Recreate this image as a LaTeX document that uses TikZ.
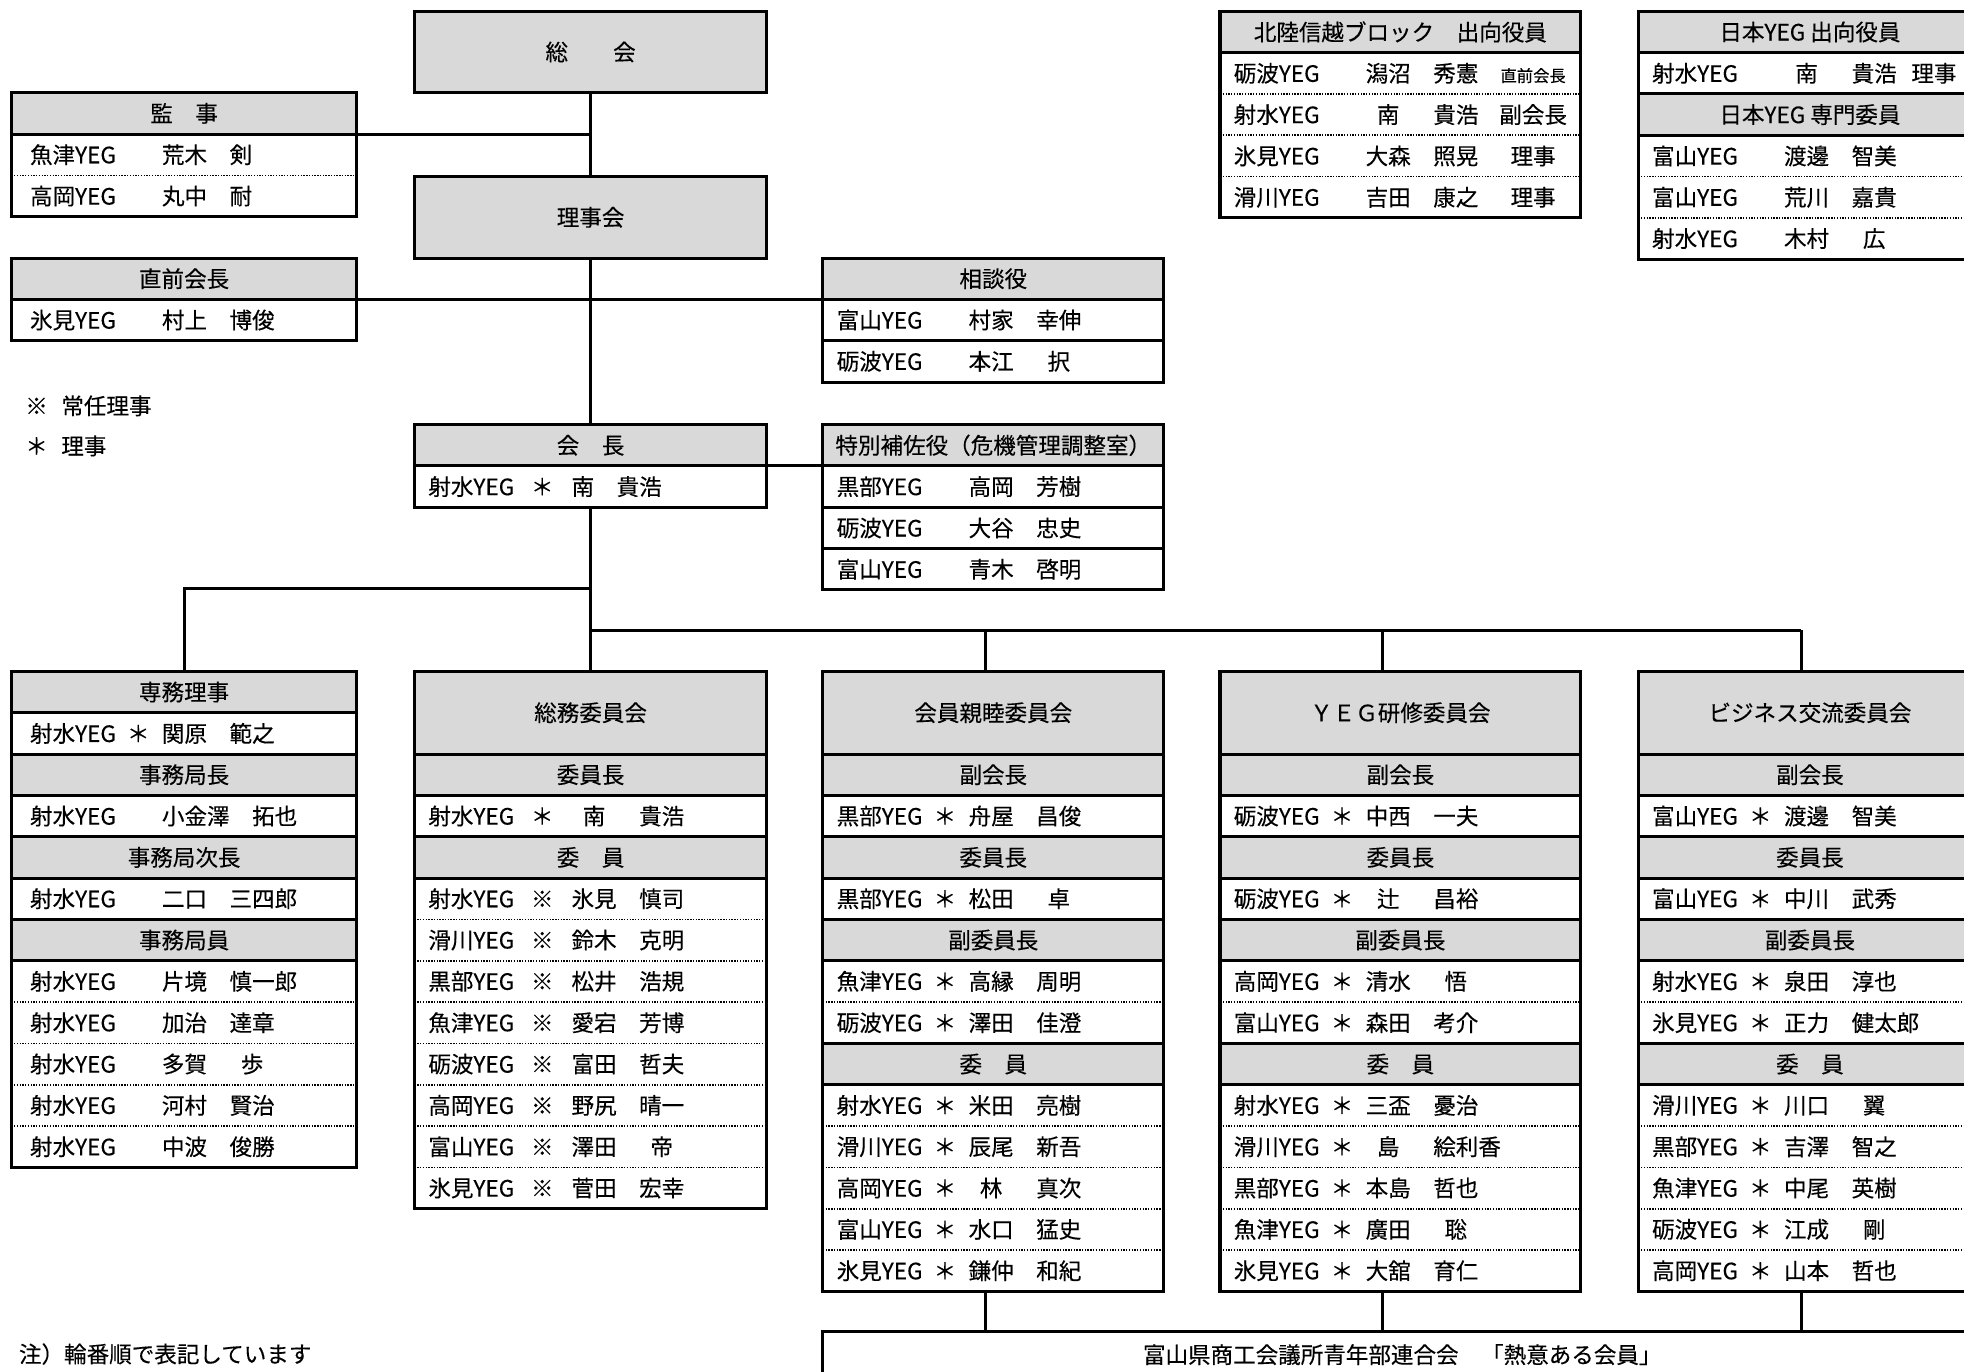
\documentclass[tikz,border=0pt]{standalone}
\usepackage{fontspec}
\setmainfont{Noto Sans CJK JP}[FakeBold=0.25]
\definecolor{hdgray}{HTML}{D9D9D9}
\newcommand{\yeg}[3]{\makebox[4.3em][l]{#1}\makebox[1em][c]{#2}\hspace{0.55em}#3}
\newcommand{\yegs}[3]{\makebox[4.55em][l]{#1}\makebox[1em][c]{#2}\hspace{0.8em}#3}
\newcommand{\cchar}[1]{\makebox[2em][c]{#1}}
\newcommand{\yaku}[1]{\hfill\makebox[3em][c]{#1}}
\begin{document}
\begin{tikzpicture}[x=1pt, y=-1pt, font=\fontsize{18}{21}\selectfont,
    hd/.style={draw, line width=2.4pt, fill=hdgray, anchor=north west, minimum height=33pt, inner sep=0pt, outer sep=0pt},
    rw/.style={anchor=north west, minimum height=33pt, inner ysep=0pt, outer sep=0pt, align=left},
    frame/.style={line width=2.4pt},
    link/.style={line width=2.4pt},
    dots/.style={line width=1.3pt, dash pattern=on 1.1pt off 1.1pt},
    wa/.style={minimum width=276pt}, ta/.style={text width=246pt, inner xsep=15pt},
    wb/.style={minimum width=281pt}, tb/.style={text width=259pt, inner xsep=11pt},
    wc/.style={minimum width=272pt}, tc/.style={text width=250pt, inner xsep=11pt},
    wd/.style={minimum width=288pt}, td/.style={text width=266pt, inner xsep=11pt},
    we/.style={minimum width=274pt}, te/.style={text width=252pt, inner xsep=11pt}]
  \useasboundingbox (0,0) rectangle (1568,1095);
  \clip (0,0) rectangle (1568,1095);

  % top: general assembly, board, president
  \node[hd, wb, minimum height=65pt] (sokai) at (331,9) {総　　会};
  \node[hd, wb, minimum height=65pt] (rijikai) at (331,141) {理事会};
  \node[hd, wb] (kaichoH) at (331,339) {会　長};
  \node[rw, tb] (kaicho1) at (331,372) {\yegs{射水YEG}{＊}{南\quad 貴浩}};
  \draw[frame] (kaichoH.north west) rectangle (kaicho1.south east);

  % left side boxes
  \node[hd, wa] (kanjiH) at (9,74) {監　事};
  \node[rw, ta] (kanji1) at (9,107) {\yeg{魚津YEG}{}{荒木\quad 剣}};
  \node[rw, ta] (kanji2) at (9,140) {\yeg{高岡YEG}{}{丸中\quad 耐}};
  \draw[dots] (kanji1.south west) -- (kanji1.south east);
  \draw[frame] (kanjiH.north west) rectangle (kanji2.south east);

  \node[hd, wa] (zenH) at (9,206) {直前会長};
  \node[rw, ta] (zen1) at (9,239) {\yeg{氷見YEG}{}{村上\quad 博俊}};
  \draw[frame] (zenH.north west) rectangle (zen1.south east);

  \node[anchor=west, inner sep=0pt] (legJonin) at (20,324) {※\hspace{0.6em}常任理事};
  \node[anchor=west, inner sep=0pt] (legRiji) at (20,356) {＊\hspace{0.6em}理事};

  % advisers
  \node[hd, wc] (sodanH) at (657,206) {相談役};
  \node[rw, tc] (sodan1) at (657,239) {\yeg{富山YEG}{}{村家\quad 幸伸}};
  \node[rw, tc] (sodan2) at (657,272) {\yeg{砺波YEG}{}{本江\quad \cchar{択}}};
  \draw[frame] (sodan1.south west) -- (sodan1.south east);
  \draw[frame] (sodanH.north west) rectangle (sodan2.south east);

  \node[hd, wc] (tokuH) at (657,339) {特別補佐役（危機管理調整室）};
  \node[rw, tc] (toku1) at (657,372) {\yeg{黒部YEG}{}{高岡\quad 芳樹}};
  \node[rw, tc] (toku2) at (657,405) {\yeg{砺波YEG}{}{大谷\quad 忠史}};
  \node[rw, tc] (toku3) at (657,438) {\yeg{富山YEG}{}{青木\quad 啓明}};
  \draw[frame] (toku1.south west) -- (toku1.south east);
  \draw[frame] (toku2.south west) -- (toku2.south east);
  \draw[frame] (tokuH.north west) rectangle (toku3.south east);

  % seconded officers
  \node[hd, wd] (hokuH) at (974,9) {北陸信越ブロック　出向役員};
  \node[rw, td] (hoku1) at (974,42) {\yeg{砺波YEG}{}{潟沼\quad 秀憲}\yaku{\fontsize{13}{15}\selectfont 直前会長}};
  \node[rw, td] (hoku2) at (974,75) {\yeg{射水YEG}{}{\cchar{南}\quad 貴浩}\yaku{副会長}};
  \node[rw, td] (hoku3) at (974,108) {\yeg{氷見YEG}{}{大森\quad 照晃}\yaku{理事}};
  \node[rw, td] (hoku4) at (974,141) {\yeg{滑川YEG}{}{吉田\quad 康之}\yaku{理事}};
  \foreach \r in {1,2,3} \draw[dots] (hoku\r.south west) -- (hoku\r.south east);
  \draw[frame] (hokuH.north west) rectangle (hoku4.south east);

  \node[hd, we] (nihonH) at (1308,9) {日本YEG 出向役員};
  \node[rw, te] (nihon1) at (1308,42) {\yeg{射水YEG}{}{\cchar{南}\quad 貴浩}\yaku{理事}};
  \node[hd, we] (senmonH) at (1308,75) {日本YEG 専門委員};
  \node[rw, te] (senmon1) at (1308,108) {\yeg{富山YEG}{}{渡邊\quad 智美}};
  \node[rw, te] (senmon2) at (1308,141) {\yeg{富山YEG}{}{荒川\quad 嘉貴}};
  \node[rw, te] (senmon3) at (1308,174) {\yeg{射水YEG}{}{木村\quad \cchar{広}}};
  \foreach \r in {1,2} \draw[dots] (senmon\r.south west) -- (senmon\r.south east);
  \draw[frame] (nihonH.north west) rectangle (senmon3.south east);

  % secretariat
  \node[hd, wa] (senmuH) at (9,536) {専務理事};
  \node[rw, ta] (senmu1) at (9,569) {\yeg{射水YEG}{＊}{関原\quad 範之}};
  \node[hd, wa] (kyokuchoH) at (9,602) {事務局長};
  \node[rw, ta] (kyokucho1) at (9,635) {\yeg{射水YEG}{}{小金澤\quad 拓也}};
  \node[hd, wa] (jichoH) at (9,668) {事務局次長};
  \node[rw, ta] (jicho1) at (9,701) {\yeg{射水YEG}{}{二口\quad 三四郎}};
  \node[hd, wa] (kyokuinH) at (9,734) {事務局員};
  \node[rw, ta] (kyokuin1) at (9,767) {\yeg{射水YEG}{}{片境\quad 慎一郎}};
  \node[rw, ta] (kyokuin2) at (9,800) {\yeg{射水YEG}{}{加治\quad 達章}};
  \node[rw, ta] (kyokuin3) at (9,833) {\yeg{射水YEG}{}{多賀\quad \cchar{歩}}};
  \node[rw, ta] (kyokuin4) at (9,866) {\yeg{射水YEG}{}{河村\quad 賢治}};
  \node[rw, ta] (kyokuin5) at (9,899) {\yeg{射水YEG}{}{中波\quad 俊勝}};
  \foreach \r in {1,2,3,4} \draw[dots] (kyokuin\r.south west) -- (kyokuin\r.south east);
  \draw[frame] (senmuH.north west) rectangle (kyokuin5.south east);

  % committees
  \node[hd, wb, minimum height=66pt] (somuT) at (331,536) {総務委員会};
  \node[hd, wb] (somuA) at (331,602) {委員長};
  \node[rw, tb] (somu1) at (331,635) {\yegs{射水YEG}{＊}{\cchar{南}\quad 貴浩}};
  \node[hd, wb] (somuB) at (331,668) {委　員};
  \node[rw, tb] (somu2) at (331,701) {\yegs{射水YEG}{※}{氷見\quad 慎司}};
  \node[rw, tb] (somu3) at (331,734) {\yegs{滑川YEG}{※}{鈴木\quad 克明}};
  \node[rw, tb] (somu4) at (331,767) {\yegs{黒部YEG}{※}{松井\quad 浩規}};
  \node[rw, tb] (somu5) at (331,800) {\yegs{魚津YEG}{※}{愛宕\quad 芳博}};
  \node[rw, tb] (somu6) at (331,833) {\yegs{砺波YEG}{※}{富田\quad 哲夫}};
  \node[rw, tb] (somu7) at (331,866) {\yegs{高岡YEG}{※}{野尻\quad 晴一}};
  \node[rw, tb] (somu8) at (331,899) {\yegs{富山YEG}{※}{澤田\quad \cchar{帝}}};
  \node[rw, tb] (somu9) at (331,932) {\yegs{氷見YEG}{※}{菅田\quad 宏幸}};
  \foreach \r in {2,...,8} \draw[dots] (somu\r.south west) -- (somu\r.south east);
  \draw[frame] (somuT.north west) rectangle (somu9.south east);

  \node[hd, wc, minimum height=66pt] (shinT) at (657,536) {会員親睦委員会};
  \node[hd, wc] (shinA) at (657,602) {副会長};
  \node[rw, tc] (shin1) at (657,635) {\yeg{黒部YEG}{＊}{舟屋\quad 昌俊}};
  \node[hd, wc] (shinB) at (657,668) {委員長};
  \node[rw, tc] (shin2) at (657,701) {\yeg{黒部YEG}{＊}{松田\quad \cchar{卓}}};
  \node[hd, wc] (shinC) at (657,734) {副委員長};
  \node[rw, tc] (shin3) at (657,767) {\yeg{魚津YEG}{＊}{高縁\quad 周明}};
  \node[rw, tc] (shin4) at (657,800) {\yeg{砺波YEG}{＊}{澤田\quad 佳澄}};
  \node[hd, wc] (shinD) at (657,833) {委　員};
  \node[rw, tc] (shin5) at (657,866) {\yeg{射水YEG}{＊}{米田\quad 亮樹}};
  \node[rw, tc] (shin6) at (657,899) {\yeg{滑川YEG}{＊}{辰尾\quad 新吾}};
  \node[rw, tc] (shin7) at (657,932) {\yeg{高岡YEG}{＊}{\cchar{林}\quad 真次}};
  \node[rw, tc] (shin8) at (657,965) {\yeg{富山YEG}{＊}{水口\quad 猛史}};
  \node[rw, tc] (shin9) at (657,998) {\yeg{氷見YEG}{＊}{鎌仲\quad 和紀}};
  \foreach \r in {3,5,6,7,8} \draw[dots] (shin\r.south west) -- (shin\r.south east);
  \draw[frame] (shinT.north west) rectangle (shin9.south east);

  \node[hd, wd, minimum height=66pt] (kenT) at (974,536) {ＹＥＧ研修委員会};
  \node[hd, wd] (kenA) at (974,602) {副会長};
  \node[rw, td] (ken1) at (974,635) {\yeg{砺波YEG}{＊}{中西\quad 一夫}};
  \node[hd, wd] (kenB) at (974,668) {委員長};
  \node[rw, td] (ken2) at (974,701) {\yeg{砺波YEG}{＊}{\cchar{辻}\quad 昌裕}};
  \node[hd, wd] (kenC) at (974,734) {副委員長};
  \node[rw, td] (ken3) at (974,767) {\yeg{高岡YEG}{＊}{清水\quad \cchar{悟}}};
  \node[rw, td] (ken4) at (974,800) {\yeg{富山YEG}{＊}{森田\quad 考介}};
  \node[hd, wd] (kenD) at (974,833) {委　員};
  \node[rw, td] (ken5) at (974,866) {\yeg{射水YEG}{＊}{三盃\quad 憂治}};
  \node[rw, td] (ken6) at (974,899) {\yeg{滑川YEG}{＊}{\cchar{島}\quad 絵利香}};
  \node[rw, td] (ken7) at (974,932) {\yeg{黒部YEG}{＊}{本島\quad 哲也}};
  \node[rw, td] (ken8) at (974,965) {\yeg{魚津YEG}{＊}{廣田\quad \cchar{聡}}};
  \node[rw, td] (ken9) at (974,998) {\yeg{氷見YEG}{＊}{大舘\quad 育仁}};
  \foreach \r in {3,5,6,7,8} \draw[dots] (ken\r.south west) -- (ken\r.south east);
  \draw[frame] (kenT.north west) rectangle (ken9.south east);

  \node[hd, we, minimum height=66pt] (bizT) at (1308,536) {ビジネス交流委員会};
  \node[hd, we] (bizA) at (1308,602) {副会長};
  \node[rw, te] (biz1) at (1308,635) {\yeg{富山YEG}{＊}{渡邊\quad 智美}};
  \node[hd, we] (bizB) at (1308,668) {委員長};
  \node[rw, te] (biz2) at (1308,701) {\yeg{富山YEG}{＊}{中川\quad 武秀}};
  \node[hd, we] (bizC) at (1308,734) {副委員長};
  \node[rw, te] (biz3) at (1308,767) {\yeg{射水YEG}{＊}{泉田\quad 淳也}};
  \node[rw, te] (biz4) at (1308,800) {\yeg{氷見YEG}{＊}{正力\quad 健太郎}};
  \node[hd, we] (bizD) at (1308,833) {委　員};
  \node[rw, te] (biz5) at (1308,866) {\yeg{滑川YEG}{＊}{川口\quad \cchar{翼}}};
  \node[rw, te] (biz6) at (1308,899) {\yeg{黒部YEG}{＊}{吉澤\quad 智之}};
  \node[rw, te] (biz7) at (1308,932) {\yeg{魚津YEG}{＊}{中尾\quad 英樹}};
  \node[rw, te] (biz8) at (1308,965) {\yeg{砺波YEG}{＊}{江成\quad \cchar{剛}}};
  \node[rw, te] (biz9) at (1308,998) {\yeg{高岡YEG}{＊}{山本\quad 哲也}};
  \foreach \r in {3,5,6,7,8} \draw[dots] (biz\r.south west) -- (biz\r.south east);
  \draw[frame] (bizT.north west) rectangle (biz9.south east);

  % federation and note
  \node[draw, line width=2.4pt, anchor=north west, minimum width=925pt, minimum height=37pt, inner sep=0pt, outer sep=0pt] (rengo) at (657,1063) {富山県商工会議所青年部連合会　「熱意ある会員」};
  \node[anchor=west, inner sep=0pt] (chu) at (15,1081) {注）輪番順で表記しています};

  % connectors
  \draw[link] (sokai.south) -- (rijikai.north);
  \draw[link] (kanjiH.south east) -- (kanjiH.south east -| sokai.south);
  \draw[link] (rijikai.south) -- (kaichoH.north);
  \draw[link] (zenH.south east) -- (sodanH.south west);
  \draw[link] (kaichoH.south east) -- (tokuH.south west);
  \draw[link] (kaicho1.south) -- (somuT.north);
  \coordinate (j1) at (471.5,470);
  \coordinate (j2) at (471.5,503);
  \coordinate (dC) at (787,503);
  \coordinate (dD) at (1104,503);
  \coordinate (dE) at (1438,503);
  \draw[link] (j1) -| (senmuH.north);
  \draw[link] (j2) -- (dE);
  \draw[link] (dC) -- (dC |- shinT.north);
  \draw[link] (dD) -- (dD |- kenT.north);
  \draw[link] (dE) -- (dE |- bizT.north);
  \draw[link] (dC |- shin9.south) -- (dC |- rengo.north);
  \draw[link] (dD |- ken9.south) -- (dD |- rengo.north);
  \draw[link] (dE |- biz9.south) -- (dE |- rengo.north);
\end{tikzpicture}
\end{document}
